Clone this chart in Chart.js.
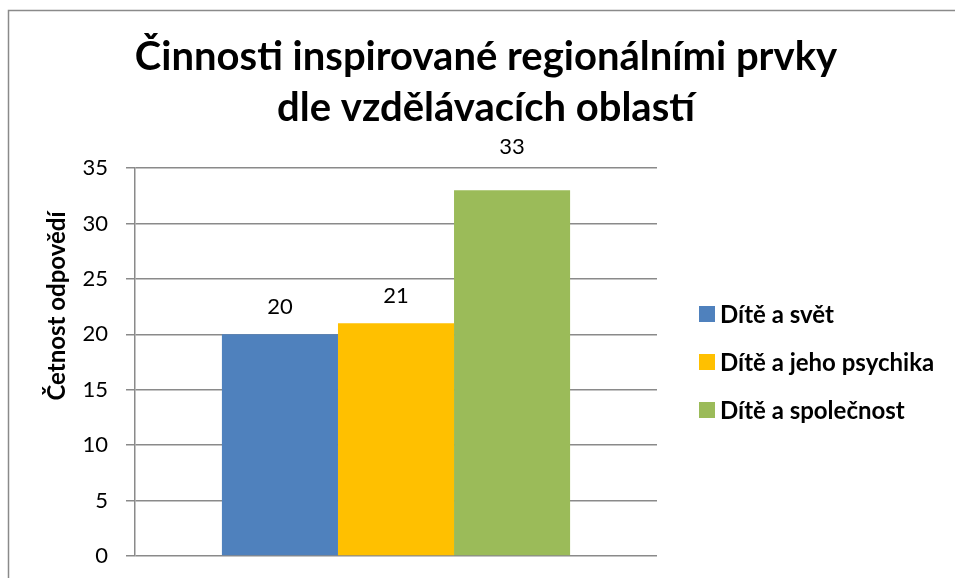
<!DOCTYPE html>
<html>
<head>
<meta charset="utf-8">
<script src="https://cdn.jsdelivr.net/npm/chart.js@4.4.1/dist/chart.umd.min.js"></script>
<style>
    html, body { margin: 0; padding: 0; background: #fff; overflow: hidden; }
    canvas { display: block; }
</style>
</head>
<body>
<canvas id="chart" width="955" height="578"></canvas>
<script>
// Chart data
const titleLines = ['Činnosti inspirované regionálními prvky', 'dle vzdělávacích oblastí'];
const axisTitle = 'Četnost odpovědí';
const categories = [''];
const seriesNames = ['Dítě a svět', 'Dítě a jeho psychika', 'Dítě a společnost'];
const seriesValues = [20, 21, 33];
const seriesColors = ['#4F81BD', '#FFC000', '#9BBB59'];
const yMin = 0;
const yMax = 35;
const yStep = 5;

const FONT = 'Lato, "Open Sans", sans-serif';
const GRID = '#8a8a8a';

// Frame, titles, value labels and legend
const extras = {
    id: 'extras',
    beforeDraw(chart) {
        const ctx = chart.ctx;
        ctx.save();
        ctx.strokeStyle = '#8a8a8a';
        ctx.lineWidth = 1.5;
        ctx.beginPath();
        ctx.moveTo(8.5, chart.height);
        ctx.lineTo(8.5, 10.5);
        ctx.lineTo(chart.width, 10.5);
        ctx.stroke();
        ctx.restore();
    },
    afterDraw(chart, args, opts) {
        const ctx = chart.ctx;
        const area = chart.chartArea;
        ctx.save();

        // chart title, centred on the whole picture
        ctx.fillStyle = '#000';
        ctx.font = 'bold 40px ' + FONT;
        ctx.textAlign = 'center';
        ctx.textBaseline = 'alphabetic';
        titleLines.forEach((line, i) => ctx.fillText(line, 486, 70 + i * 51));

        // rotated y axis title
        ctx.font = 'bold 24px ' + FONT;
        ctx.textBaseline = 'middle';
        ctx.translate(57, 306);
        ctx.rotate(-Math.PI / 2);
        ctx.fillText(axisTitle, 0, 0);
        ctx.setTransform(1, 0, 0, 1, 0, 0);

        // value labels above bars
        ctx.font = '22px ' + FONT;
        chart.data.datasets.forEach((ds, i) => {
            const bar = chart.getDatasetMeta(i).data[0];
            ctx.fillText(String(ds.data[0]), bar.x, bar.y - opts.offsets[i]);
        });

        // legend
        const midY = (area.top + area.bottom) / 2;
        ctx.font = 'bold 24px ' + FONT;
        ctx.textAlign = 'left';
        chart.data.datasets.forEach((ds, i) => {
            const y = midY + (i - 1) * 48;
            ctx.fillStyle = ds.backgroundColor;
            ctx.fillRect(699, y - 8, 16, 16);
            ctx.fillStyle = '#000';
            ctx.fillText(ds.label, 720, y + 1);
        });
        ctx.restore();
    }
};

new Chart(document.getElementById('chart'), {
    type: 'bar',
    data: {
        labels: categories,
        datasets: seriesNames.map((name, i) => ({
            label: name,
            data: [seriesValues[i]],
            backgroundColor: seriesColors[i],
            categoryPercentage: 0.667,
            barPercentage: 1
        }))
    },
    options: {
        responsive: false,
        animation: false,
        layout: {
            padding: { left: 0, right: 298, top: 168, bottom: 22 }
        },
        plugins: {
            legend: { display: false },
            tooltip: { enabled: false },
            title: { display: false },
            extras: { offsets: [27, 27, 43] }
        },
        scales: {
            x: { display: false },
            y: {
                min: yMin,
                max: yMax,
                afterFit(scale) {
                    scale.width = 135;
                    // tick padding should not push the plot bottom up
                    scale.paddingTop = 0;
                    scale.paddingBottom = 0;
                },
                ticks: {
                    stepSize: yStep,
                    color: '#000',
                    padding: 18,
                    font: { family: FONT, size: 22 }
                },
                grid: {
                    color: GRID,
                    lineWidth: 1.5,
                    tickLength: 9
                },
                border: { display: true, color: GRID, width: 1.5 }
            }
        }
    },
    plugins: [extras]
});
</script>
</body>
</html>
